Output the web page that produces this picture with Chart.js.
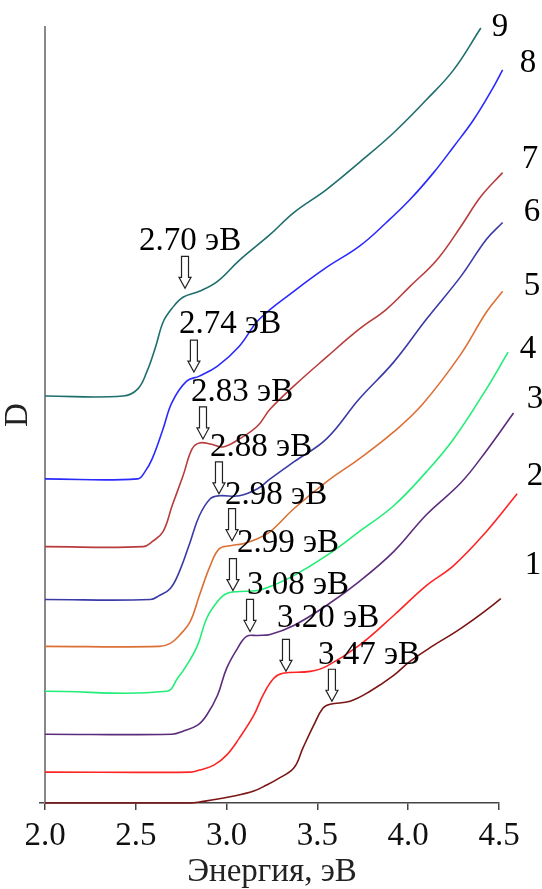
<!DOCTYPE html>
<html>
<head>
<meta charset="utf-8">
<script src="https://cdn.jsdelivr.net/npm/chart.js@4.4.1/dist/chart.umd.min.js"></script>
<style>
  html, body { margin: 0; padding: 0; background: #fff; }
  #chart { display: block; }
</style>
</head>
<body>
<canvas id="chart" width="542" height="889"></canvas>
<script>
// energies (eV) and optical density (arb. units), curves 1..9
const e1 = [2.00, 2.80, 2.85, 3.04, 3.15, 3.22, 3.28, 3.37, 3.42, 3.48, 3.53, 3.57, 3.68, 3.79, 3.92, 4.01, 4.14, 4.29, 4.51, 4.60];
const d1 = [0.00, 0.00, 0.01, 0.07, 0.12, 0.18, 0.24, 0.35, 0.55, 0.78, 0.95, 0.99, 1.02, 1.12, 1.28, 1.42, 1.58, 1.75, 2.05, 2.22];

const e2 = [2.00, 2.80, 2.85, 2.93, 3.00, 3.07, 3.15, 3.20, 3.26, 3.31, 3.46, 3.55, 3.73, 3.92, 4.10, 4.25, 4.43, 4.60];
const d2 = [0.31, 0.31, 0.33, 0.38, 0.48, 0.65, 0.88, 1.08, 1.25, 1.30, 1.32, 1.37, 1.58, 1.88, 2.18, 2.38, 2.72, 3.10];

const e3 = [2.00, 2.70, 2.76, 2.84, 2.89, 2.95, 3.00, 3.06, 3.11, 3.17, 3.24, 3.37, 3.55, 3.73, 3.92, 4.10, 4.29, 4.43, 4.58];
const d3 = [0.69, 0.69, 0.72, 0.78, 0.88, 1.08, 1.35, 1.55, 1.67, 1.68, 1.69, 1.78, 1.98, 2.22, 2.52, 2.89, 3.21, 3.53, 3.91];

const e4 = [2.00, 2.67, 2.73, 2.78, 2.84, 2.89, 2.95, 3.00, 3.07, 3.17, 3.24, 3.37, 3.55, 3.73, 3.92, 4.10, 4.25, 4.43, 4.55];
const d4 = [1.12, 1.12, 1.25, 1.38, 1.58, 1.85, 2.02, 2.10, 2.12, 2.13, 2.17, 2.28, 2.48, 2.72, 2.98, 3.32, 3.65, 4.15, 4.52];

const e5 = [2.00, 2.63, 2.69, 2.74, 2.80, 2.85, 2.91, 2.96, 3.02, 3.09, 3.17, 3.24, 3.37, 3.55, 3.73, 3.92, 4.08, 4.29, 4.43, 4.52];
const d5 = [1.57, 1.57, 1.60, 1.68, 1.82, 2.08, 2.38, 2.55, 2.58, 2.60, 2.65, 2.72, 2.95, 3.22, 3.45, 3.72, 4.00, 4.50, 4.92, 5.13];

const e6 = [2.00, 2.58, 2.63, 2.69, 2.74, 2.80, 2.85, 2.91, 2.96, 3.07, 3.17, 3.24, 3.37, 3.55, 3.73, 3.92, 4.10, 4.29, 4.43, 4.52];
const d6 = [2.04, 2.04, 2.08, 2.15, 2.32, 2.62, 2.88, 3.05, 3.08, 3.08, 3.15, 3.25, 3.42, 3.65, 4.05, 4.42, 4.85, 5.28, 5.65, 5.82];

const e7 = [2.00, 2.54, 2.59, 2.65, 2.70, 2.76, 2.81, 2.85, 2.91, 2.98, 3.07, 3.17, 3.24, 3.37, 3.55, 3.73, 3.88, 4.01, 4.16, 4.29, 4.40, 4.52];
const d7 = [2.57, 2.57, 2.62, 2.72, 2.98, 3.28, 3.55, 3.61, 3.60, 3.57, 3.65, 3.78, 3.95, 4.18, 4.47, 4.75, 4.95, 5.18, 5.45, 5.78, 6.08, 6.32];

const e8 = [2.00, 2.51, 2.55, 2.59, 2.65, 2.70, 2.78, 2.85, 2.95, 3.07, 3.18, 3.37, 3.55, 3.73, 3.88, 4.01, 4.14, 4.25, 4.36, 4.47, 4.52];
const d8 = [3.25, 3.25, 3.32, 3.45, 3.75, 4.02, 4.23, 4.28, 4.38, 4.58, 4.85, 5.13, 5.37, 5.58, 5.82, 6.05, 6.32, 6.58, 6.85, 7.18, 7.35];

const e9 = [2.00, 2.43, 2.51, 2.56, 2.61, 2.65, 2.70, 2.76, 2.85, 2.95, 3.07, 3.24, 3.37, 3.55, 3.73, 3.92, 4.10, 4.25, 4.40];
const d9 = [4.08, 4.08, 4.15, 4.32, 4.58, 4.82, 4.96, 5.07, 5.13, 5.23, 5.44, 5.70, 5.92, 6.15, 6.42, 6.72, 7.05, 7.35, 7.77];

const curveNames = ['1', '2', '3', '4', '5', '6', '7', '8', '9'];
const curveColors = ['#7a1515', '#ff2424', '#5c2c7c', '#22ee77', '#dc7034', '#3a3aa6', '#b83c3c', '#2a2aff', '#1e6e6e'];

// where the curve numbers sit (eV, D)
const nameE = [4.687, 4.698, 4.698, 4.660, 4.682, 4.682, 4.671, 4.660, 4.506];
const nameD = [2.38, 3.28, 4.05, 4.55, 5.18, 5.92, 6.45, 7.42, 7.78];

// band-edge markers: arrow tips and label anchors (eV, D)
const edgeLabels = ['3.47 эВ', '3.20 эВ', '3.08 эВ', '2.99 эВ', '2.98 эВ', '2.88 эВ', '2.83 эВ', '2.74 эВ', '2.70 эВ'];
const arrowE = [3.580, 3.327, 3.129, 3.035, 3.030, 2.958, 2.870, 2.820, 2.771];
const arrowD = [1.02, 1.32, 1.72, 2.13, 2.63, 3.10, 3.65, 4.32, 5.16];
const labelE = [3.503, 3.278, 3.112, 3.057, 2.991, 2.909, 2.804, 2.738, 2.518];
const labelD = [1.48, 1.85, 2.18, 2.60, 3.08, 3.57, 4.12, 4.80, 5.63];

const xTicks = [2.0, 2.5, 3.0, 3.5, 4.0, 4.5];

const energies = [e1, e2, e3, e4, e5, e6, e7, e8, e9];
const densities = [d1, d2, d3, d4, d5, d6, d7, d8, d9];

const FONT = "'Liberation Serif', 'Times New Roman', serif";

const datasets = energies.map((es, i) => ({
    label: curveNames[i],
    data: es.map((e, k) => ({ x: e, y: densities[i][k] })),
    borderColor: curveColors[i],
    borderWidth: 1.6,
    pointRadius: 0,
    tension: 0.4,
    fill: false,
    clip: false
}));

// arrows, edge labels and curve numbers
const markersPlugin = {
    id: 'markers',
    afterDatasetsDraw(chart) {
        const { ctx, scales: { x, y } } = chart;
        ctx.save();
        ctx.fillStyle = '#000';
        ctx.font = '33px ' + FONT;
        ctx.textBaseline = 'middle';

        ctx.textAlign = 'left';
        edgeLabels.forEach((txt, i) => {
            ctx.fillText(txt, x.getPixelForValue(labelE[i]), y.getPixelForValue(labelD[i]));
        });

        // hollow down arrows
        arrowE.forEach((e, i) => {
            const px = x.getPixelForValue(e);
            const py = y.getPixelForValue(arrowD[i]);
            const top = py - 32, neck = py - 11;
            ctx.beginPath();
            ctx.moveTo(px - 3.5, top);
            ctx.lineTo(px + 3.5, top);
            ctx.lineTo(px + 3.5, neck);
            ctx.lineTo(px + 6, neck);
            ctx.lineTo(px, py);
            ctx.lineTo(px - 6, neck);
            ctx.lineTo(px - 3.5, neck);
            ctx.closePath();
            ctx.fillStyle = '#fff';
            ctx.fill();
            ctx.lineWidth = 1.2;
            ctx.strokeStyle = '#222';
            ctx.stroke();
        });

        ctx.fillStyle = '#000';
        ctx.textAlign = 'center';
        curveNames.forEach((n, i) => {
            ctx.fillText(n, x.getPixelForValue(nameE[i]), y.getPixelForValue(nameD[i]));
        });
        ctx.restore();
    }
};

new Chart(document.getElementById('chart'), {
    type: 'line',
    data: { datasets },
    options: {
        responsive: false,
        animation: false,
        events: [],
        layout: { padding: { left: 0, right: 43, top: 27, bottom: 0 } },
        plugins: { legend: { display: false }, tooltip: { enabled: false } },
        scales: {
            x: {
                type: 'linear',
                min: 2.0,
                max: 4.5,
                afterBuildTicks: (scale) => { scale.ticks = xTicks.map(v => ({ value: v })); },
                border: { color: '#444', width: 1.5 },
                grid: { drawOnChartArea: false, color: '#444', tickLength: 7, lineWidth: 1.5 },
                ticks: {
                    color: '#111',
                    padding: 10,
                    maxRotation: 0,
                    font: { family: FONT, size: 33, lineHeight: 1 },
                    callback: (v) => v.toFixed(1)
                },
                title: {
                    display: true,
                    text: 'Энергия, эВ',
                    color: '#222',
                    padding: { top: -7, bottom: 0 },
                    font: { family: FONT, size: 33, lineHeight: 1 }
                }
            },
            y: {
                type: 'linear',
                min: 0,
                max: 7.78,
                afterBuildTicks: (scale) => { scale.ticks = [{ value: 0 }]; },
                border: { color: '#888', width: 2 },
                grid: { drawOnChartArea: false, color: '#444', tickLength: 6, lineWidth: 1.5 },
                ticks: { display: false },
                title: {
                    display: true,
                    text: 'D',
                    color: '#222',
                    padding: { top: 2, bottom: 4 },
                    font: { family: FONT, size: 33, lineHeight: 1 }
                }
            }
        }
    },
    plugins: [markersPlugin]
});
</script>
</body>
</html>
